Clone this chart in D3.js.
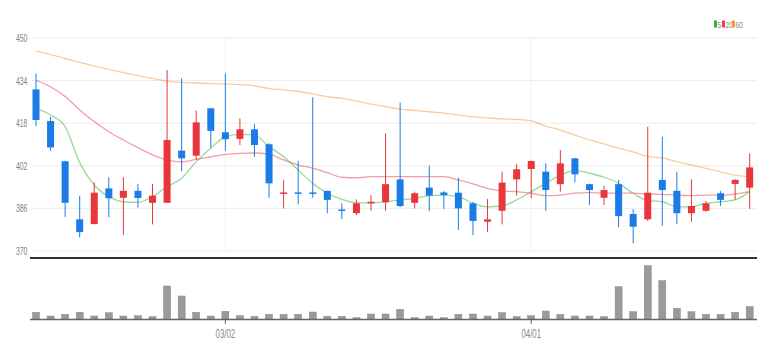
<!DOCTYPE html>
<html>
<head>
<meta charset="utf-8">
<script src="https://cdn.jsdelivr.net/npm/d3@7"></script>
<style>
  html, body { margin: 0; padding: 0; background: #fff; }
  svg { display: block; }
  text { font-family: "Liberation Sans", Arial, sans-serif; }
</style>
</head>
<body>
<svg id="chart" width="772" height="358"></svg>
<script>
// ---------------- DATA ----------------
const dates = ["02/10","02/11","02/14","02/15","02/16","02/17","02/18","02/21","02/22","02/23",
  "02/24","02/25","02/28","03/02","03/03","03/04","03/07","03/08","03/10","03/11",
  "03/14","03/15","03/16","03/17","03/18","03/21","03/22","03/23","03/24","03/25",
  "03/28","03/29","03/30","03/31","04/01","04/04","04/05","04/06","04/07","04/08",
  "04/11","04/12","04/13","04/14","04/15","04/18","04/19","04/20","04/21","04/22"];
const openP  = [430.7,418.8,403.7,381.9,380.1,393.5,390.0,392.6,388.1,388.1,
  407.7,405.8,423.6,414.6,412.1,415.7,410.1,391.5,392.0,392.0,
  392.6,385.6,384.2,387.9,388.3,396.9,388.1,393.8,392.0,391.9,
  387.9,381.0,385.1,396.9,400.8,399.8,395.1,404.8,395.1,390.0,
  395.1,383.9,381.9,396.7,392.6,384.2,385.1,391.7,395.2,393.8];
const highP  = [436.7,420.4,403.9,390.7,395.8,397.7,397.7,395.2,395.2,438.0,
  434.9,422.7,423.6,436.7,419.8,417.7,410.5,396.7,403.8,427.7,
  392.6,387.9,389.4,391.0,414.2,425.7,392.3,402.0,392.5,397.5,
  388.5,389.5,399.8,402.7,404.0,402.9,407.9,405.0,395.3,394.5,
  396.7,385.7,416.7,412.9,399.8,396.9,388.8,392.5,397.0,406.7];
const lowP   = [416.9,407.6,382.8,375.1,380.1,382.7,376.0,386.3,380.0,388.1,
  400.0,404.2,408.8,407.6,409.8,405.4,390.0,386.0,387.5,390.0,
  384.2,382.0,383.5,385.1,385.1,386.5,386.0,385.0,385.8,377.9,
  376.0,377.2,380.0,390.8,389.8,385.1,392.3,395.8,387.3,387.3,
  378.9,372.9,381.3,379.5,380.1,381.0,384.8,386.9,389.2,385.8];
const closeP = [419.2,408.9,388.1,377.1,391.9,389.8,392.6,389.9,390.8,411.7,
  404.8,418.3,415.1,412.0,415.7,409.8,395.4,392.0,391.5,391.5,
  389.2,385.2,387.9,388.5,395.1,386.9,391.7,390.8,391.0,386.0,
  381.3,381.9,395.7,400.7,403.8,392.9,402.9,398.8,392.9,392.9,
  383.1,379.1,391.9,392.9,384.2,386.9,387.9,389.2,396.7,401.4];
const volume = [6.7,3.0,4.7,6.7,3.0,6.3,3.0,3.3,2.3,33.0,
  23.0,6.7,3.0,7.7,3.3,2.7,4.7,4.7,4.7,7.0,
  2.7,2.7,1.3,5.0,5.0,9.7,1.3,3.0,1.3,4.7,
  5.0,3.0,6.3,2.3,3.3,8.0,4.7,3.0,3.0,2.3,
  32.3,7.3,53.3,38.3,10.7,7.3,4.7,4.7,6.7,12.3];
const ma5  = [423.6,421.1,416.7,403.2,394.8,390.4,388.5,388.3,390.4,394.2,
  397.3,403.5,408.6,412.9,413.8,413.5,409.2,405.4,400.4,395.4,
  391.7,389.4,388.1,388.1,388.5,389.2,389.8,390.8,391.0,390.4,
  387.9,386.6,386.9,389.2,392.3,395.4,398.5,400.2,399.2,397.7,
  395.4,391.7,388.9,388.5,386.6,386.6,387.9,388.5,389.2,392.3];
const ma20 = [434.2,431.7,428.0,423.0,418.6,414.8,411.7,408.8,406.1,404.2,
  403.5,404.4,405.4,406.3,406.7,406.8,406.4,404.2,402.3,401.1,
  399.4,397.7,397.5,397.9,397.9,397.9,397.9,397.9,397.9,396.7,
  395.2,393.5,392.5,392.3,391.7,390.8,391.0,391.7,391.9,391.7,
  391.7,391.7,391.4,391.3,391.0,390.8,391.0,391.0,391.4,392.3];
const ma60 = [445.1,443.8,442.3,440.8,439.5,438.2,437.0,435.9,434.8,433.8,
  433.3,433.1,432.9,432.7,432.5,432.0,431.0,430.5,429.9,429.0,
  428.0,427.3,426.3,425.2,424.2,423.3,422.8,422.3,421.8,421.1,
  420.4,420.0,419.6,419.4,418.9,416.9,415.4,413.5,411.7,410.2,
  408.6,407.2,405.5,404.9,403.6,402.3,401.0,399.7,398.5,397.9];
const yTicks = [370, 386, 402, 418, 434, 450];
const xTickLabels = ["03/02", "04/01"];
const legendLabels = ["5", "20", "60"];

// ---------------- STYLE ----------------
const UP = "#e8363c", DOWN = "#1b7ce8";
const maColors = ["#2fb52f", "#ee3a4a", "#f59a3a"];

const svg = d3.select("#chart");
const W = 772, H = 358;
svg.append("rect").attr("width", W).attr("height", H).attr("fill", "#fff");

const plotLeft = 30, plotRight = 757;
const x = d3.scalePoint().domain(dates).range([36, 749.7]);
const y = d3.scaleLinear().domain([370, 450]).range([251, 38]);
const yv = d3.scaleLinear().domain([0, 57]).range([319, 262]);
const bodyW = 7;

// grid
const grid = svg.append("g");
grid.selectAll("line.h").data(yTicks).join("line")
  .attr("x1", plotLeft + 2).attr("x2", plotRight)
  .attr("y1", d => y(d)).attr("y2", d => y(d))
  .attr("stroke", "#ececec").attr("stroke-width", 1);
grid.selectAll("line.v").data(xTickLabels).join("line")
  .attr("x1", d => x(d)).attr("x2", d => x(d))
  .attr("y1", y(450)).attr("y2", y(370))
  .attr("stroke", "#efefef").attr("stroke-width", 1);

// y labels
svg.append("g").selectAll("text").data(yTicks).join("text")
  .attr("transform", d => `translate(16,${y(d) + 4}) scale(0.62,1)`)
  .attr("font-size", 11).attr("fill", "#808080")
  .text(d => d);

// MA lines
const idx = d3.range(dates.length);
const line = arr => d3.line().x(i => x(dates[i])).y(i => y(arr[i])).curve(d3.curveMonotoneX)(idx);
[[ma60, 2], [ma20, 1], [ma5, 0]].forEach(([arr, c]) => {
  svg.append("path").attr("d", line(arr)).attr("fill", "none")
    .attr("stroke", maColors[c]).attr("stroke-opacity", 0.5).attr("stroke-width", 1.3);
});

// candles
const cg = svg.append("g");
idx.forEach(i => {
  const up = closeP[i] >= openP[i];
  const col = up ? UP : DOWN;
  const cx = x(dates[i]);
  cg.append("line").attr("x1", cx).attr("x2", cx)
    .attr("y1", y(highP[i])).attr("y2", y(lowP[i]))
    .attr("stroke", col).attr("stroke-width", 1);
  const top = y(Math.max(openP[i], closeP[i]));
  const bot = y(Math.min(openP[i], closeP[i]));
  cg.append("rect").attr("x", cx - bodyW / 2).attr("y", top)
    .attr("width", bodyW).attr("height", Math.max(1.5, bot - top))
    .attr("fill", col);
});

// price axis base line
svg.append("line").attr("x1", plotLeft).attr("x2", plotRight)
  .attr("y1", 258).attr("y2", 258).attr("stroke", "#333").attr("stroke-width", 2);

// volume bars
svg.append("g").selectAll("rect").data(idx).join("rect")
  .attr("x", i => x(dates[i]) - bodyW / 2)
  .attr("y", i => yv(volume[i]))
  .attr("width", bodyW)
  .attr("height", i => yv(0) - yv(volume[i]))
  .attr("fill", "#9a9a9a").attr("stroke", "#8a8a8a").attr("stroke-width", 0.5);

// volume axis
svg.append("line").attr("x1", plotLeft).attr("x2", plotRight)
  .attr("y1", 319.5).attr("y2", 319.5).attr("stroke", "#666").attr("stroke-width", 1.5);
const xt = svg.append("g");
xt.selectAll("line").data(xTickLabels).join("line")
  .attr("x1", d => x(d)).attr("x2", d => x(d))
  .attr("y1", 319).attr("y2", 324).attr("stroke", "#666");
xt.selectAll("text").data(xTickLabels).join("text")
  .attr("transform", d => `translate(${x(d)},338) scale(0.6,1)`)
  .attr("text-anchor", "middle").attr("font-size", 13).attr("fill", "#888")
  .text(d => d);

// legend
const lg = svg.append("g");
const legX = [714, 722, 732];
legendLabels.forEach((t, k) => {
  lg.append("rect").attr("x", legX[k]).attr("y", 20.5).attr("width", 3).attr("height", 7)
    .attr("fill", maColors[k]);
  lg.append("text").attr("transform", `translate(${legX[k] + 3.5},27.5) scale(0.7,1)`)
    .attr("font-size", 9.5).attr("fill", "#888").text(t);
});
</script>
</body>
</html>
